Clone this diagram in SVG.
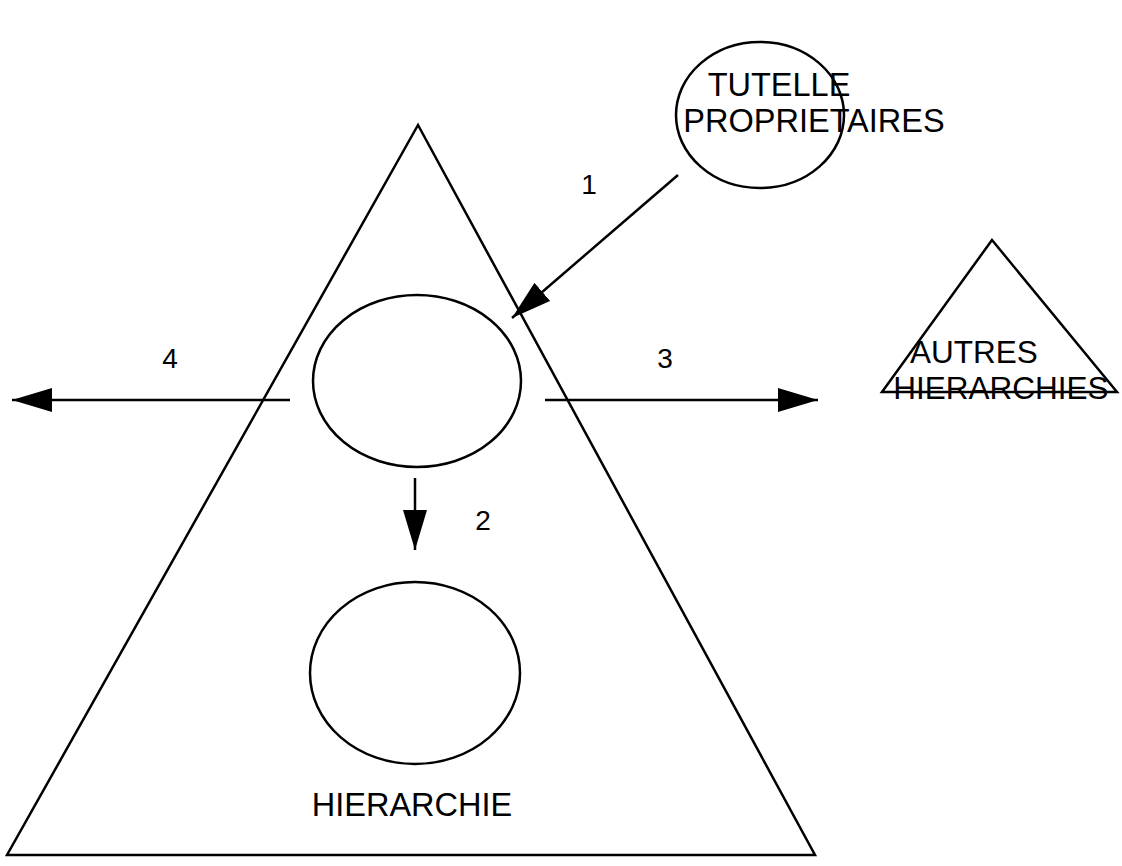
<svg xmlns="http://www.w3.org/2000/svg" width="1122" height="866" viewBox="0 0 1122 866">
<defs>
<style>
.s{fill:none;stroke:#000;stroke-width:2.5}
.t{font-family:"Liberation Sans",Arial,sans-serif;font-size:32.5px;fill:#000}
.a{font-family:"Liberation Sans",Arial,sans-serif;font-size:31.5px;fill:#000}
.n{font-family:"Liberation Sans",Arial,sans-serif;font-size:28px;fill:#000}
.c{stroke:#000;stroke-width:2.5;fill:none}
</style>
<marker id="ah" viewBox="0 0 40 24" refX="40" refY="12" markerWidth="40" markerHeight="24" markerUnits="userSpaceOnUse" orient="auto">
<path d="M0,0 L40,12 L0,24 Z" fill="#000"/>
</marker>
</defs>
<rect width="1122" height="866" fill="#fff"/>
<g id="hierarchie">
<polygon class="s" points="418,125 7,855 815,855"/>
<text class="t" x="412" y="816" text-anchor="middle">HIERARCHIE</text>
</g>
<g id="noeud-haut"><ellipse class="s" cx="417" cy="381" rx="104" ry="86"/></g>
<g id="noeud-bas"><ellipse class="s" cx="415" cy="673" rx="105" ry="91"/></g>
<g id="tutelle">
<ellipse class="s" cx="760" cy="115" rx="84" ry="73"/>
<text class="t" x="779" y="96" text-anchor="middle">TUTELLE</text>
<text class="t" x="814" y="132" text-anchor="middle">PROPRIETAIRES</text>
</g>
<g id="autres">
<polygon class="s" points="992,240 882,392 1117,392"/>
<text class="a" x="974" y="363" text-anchor="middle">AUTRES</text>
<text class="a" x="1001" y="399" text-anchor="middle">HIERARCHIES</text>
</g>
<g id="connecteurs">
<line class="c" x1="678" y1="175" x2="512" y2="318" marker-end="url(#ah)"/>
<line class="c" x1="415" y1="478" x2="415" y2="550" marker-end="url(#ah)"/>
<line class="c" x1="545" y1="400" x2="818" y2="400" marker-end="url(#ah)"/>
<line class="c" x1="290" y1="400" x2="12" y2="400" marker-end="url(#ah)"/>
<text class="n" x="589" y="194" text-anchor="middle">1</text>
<text class="n" x="483" y="530" text-anchor="middle">2</text>
<text class="n" x="665" y="368" text-anchor="middle">3</text>
<text class="n" x="170" y="368" text-anchor="middle">4</text>
</g>
</svg>
